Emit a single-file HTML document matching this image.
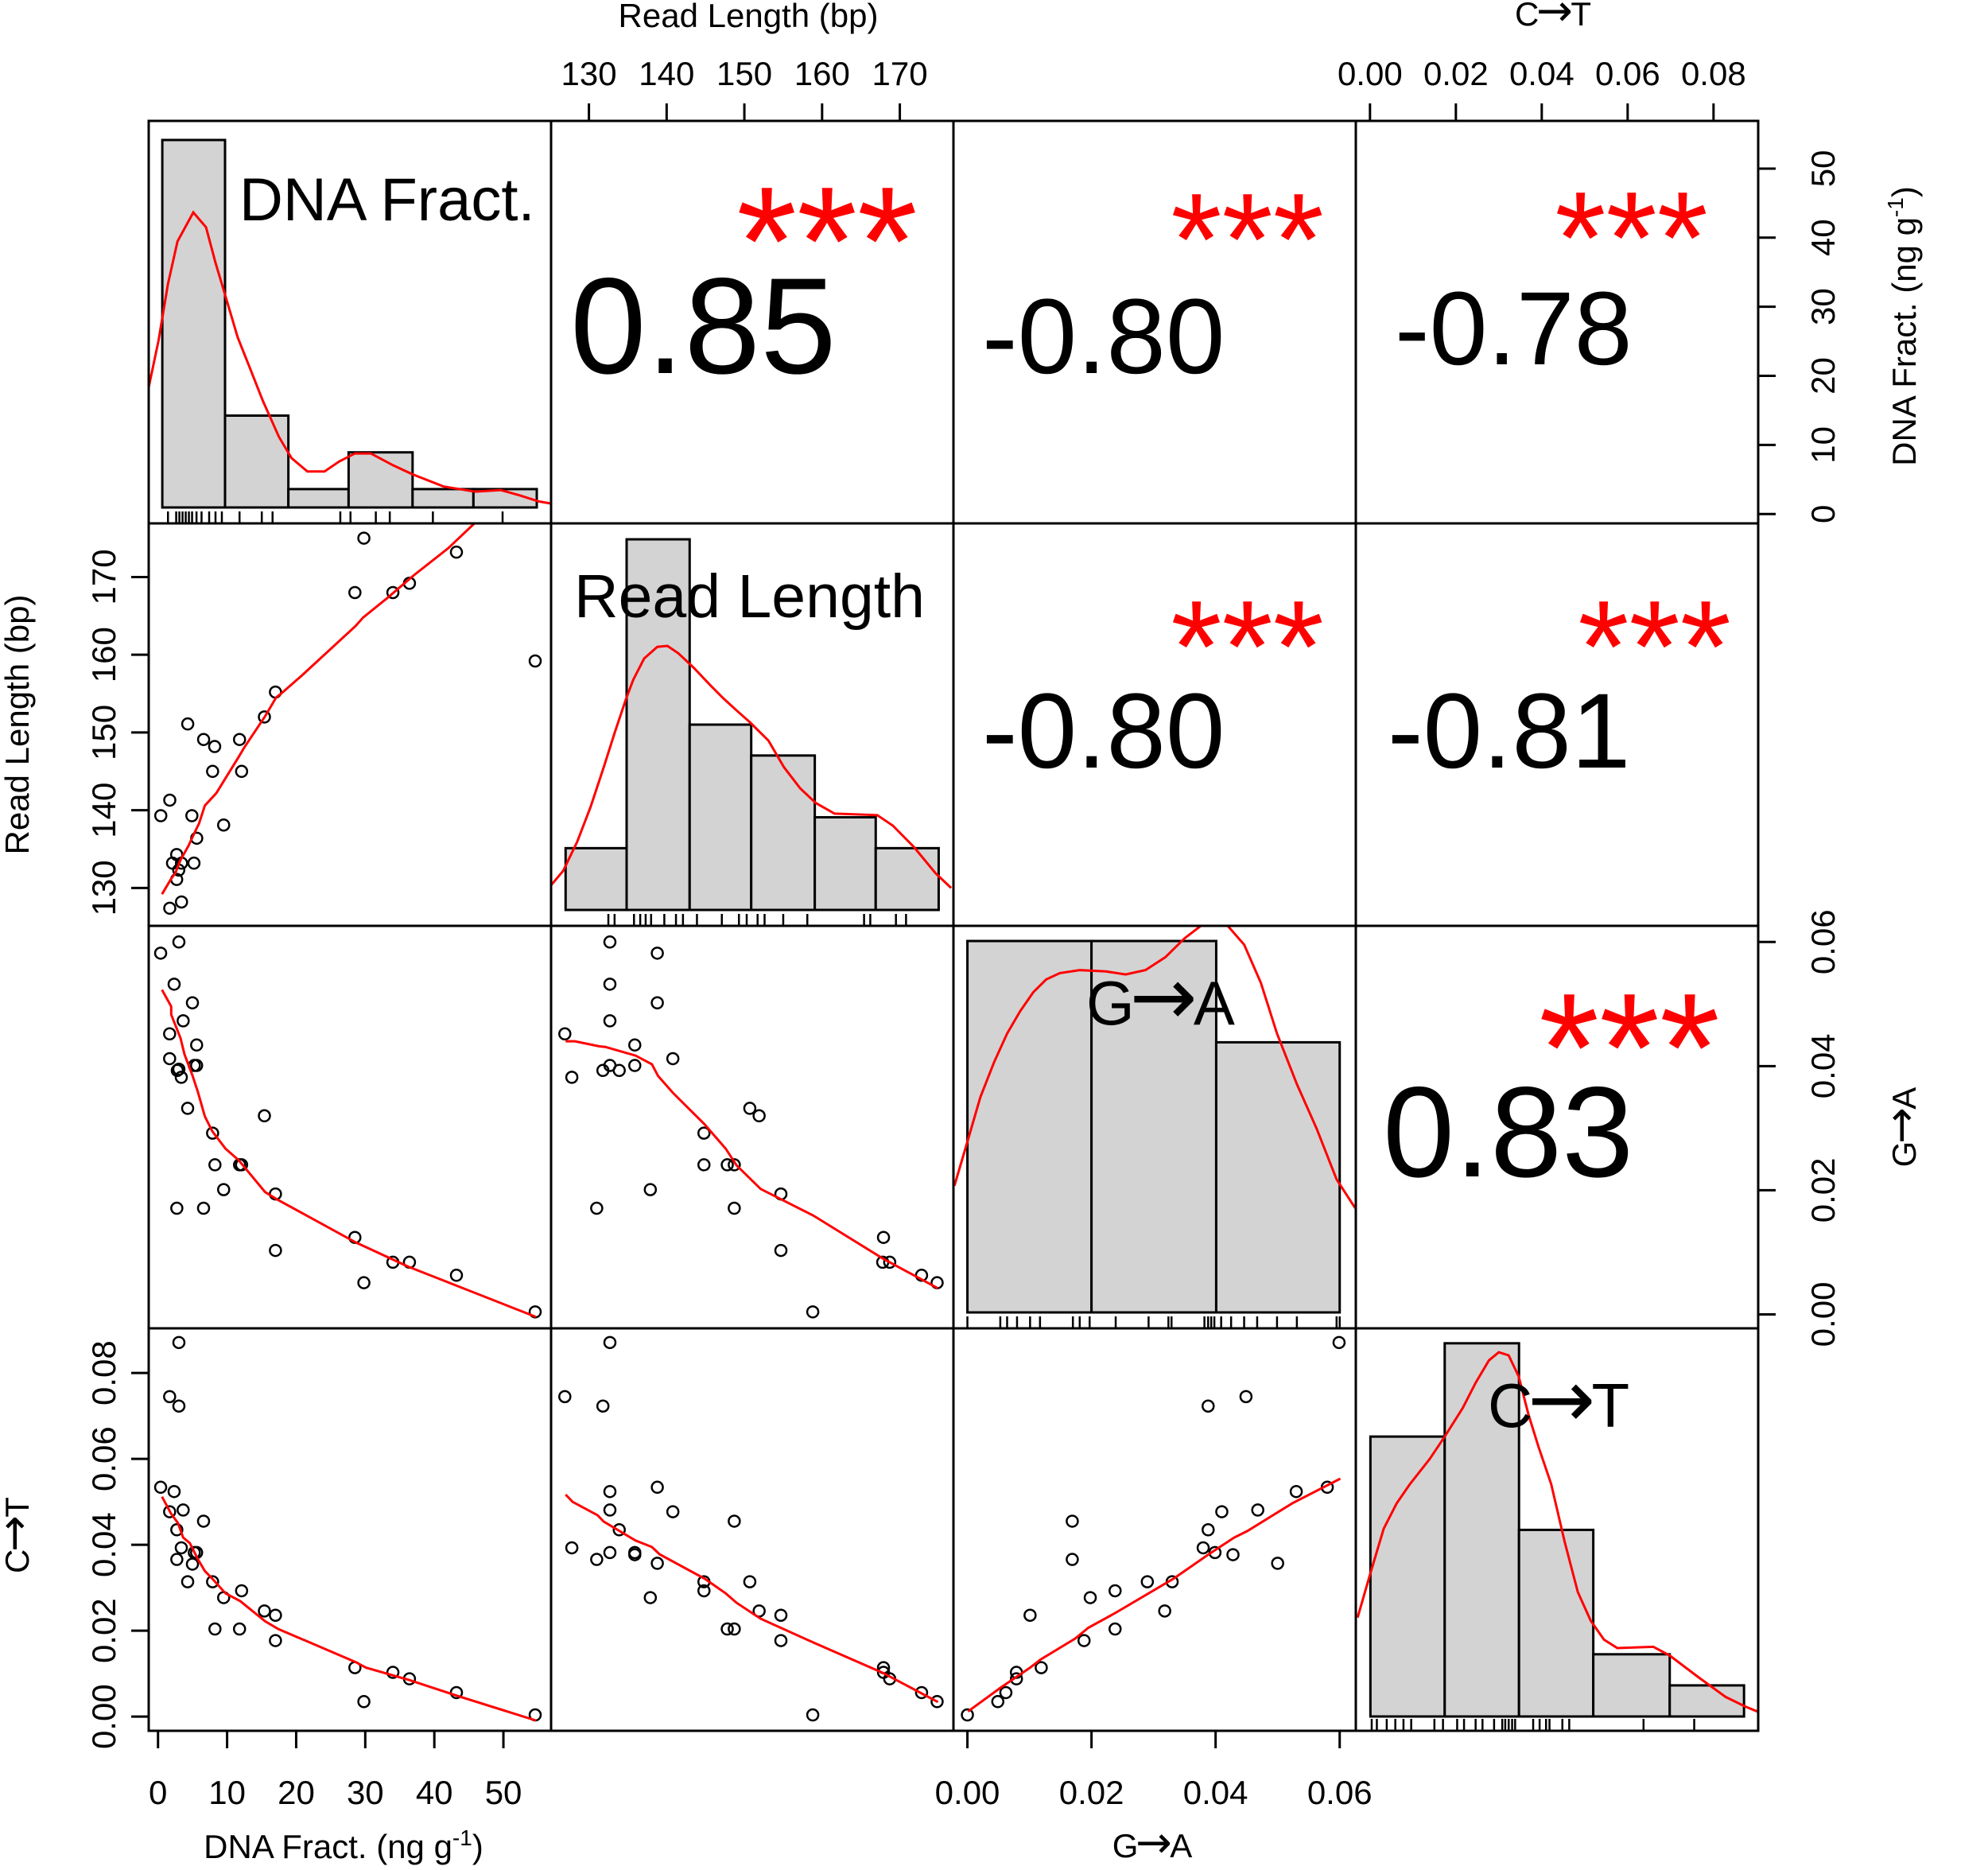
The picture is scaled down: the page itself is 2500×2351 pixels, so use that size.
<!DOCTYPE html>
<html><head><meta charset="utf-8"><style>
html,body{margin:0;padding:0;background:#fff;}
svg{display:block;font-family:"Liberation Sans",Arial,sans-serif;}
</style></head><body>
<svg id="chart" width="2500" height="2351" viewBox="0 0 2500 2351" xmlns="http://www.w3.org/2000/svg">
<defs></defs>
</svg>
<script>
// ---------- data ----------
const varNames = ['DNA Fract.','Read Length','G|A','C|T'];
const corrValues = [['','0.85','-0.80','-0.78'],['','','-0.80','-0.81'],['','','','0.83']];
const dnaTicks = [0,10,20,30,40,50];
const rlTicks = [130,140,150,160,170];
const gaTicks = [0,0.02,0.04,0.06];
const ctTicks = [0,0.02,0.04,0.06,0.08];

const dnaRL_x = [29.8,43.2,28.5,34.0,36.4,54.6,17.0,15.4,4.3,6.6,8.2,11.8,7.9,12.1,1.7,0.4,4.9,9.5,5.6,2.7,2.1,3.4,5.2,3.0,2.7,3.4,1.7];
const dnaRL_y = [175.0,173.2,168.0,168.0,169.2,159.2,155.2,152.0,151.1,149.1,148.2,149.1,145.0,145.0,141.3,139.3,139.3,138.1,136.4,134.3,133.2,133.2,133.2,132.3,131.1,128.2,127.4];
const dnaRL_lx = [0.57,1.91,2.49,3.25,4.4,5.55,5.94,6.78,8.43,11.7,12.5,15.5,17.1,17.8,20.9,28.6,29.7,33.2,37.0,42.0,45.8,54.6];
const dnaRL_ly = [129.2,131.2,131.9,133.6,135.4,137.6,138.3,140.6,142.2,146.9,148.1,152.1,154.5,155.0,157.4,163.7,164.8,167.3,170.2,173.7,176.9,183.5];

const dnaGA_x = [3.02,0.38,2.33,4.98,3.64,1.68,5.59,1.68,2.79,3.02,3.37,5.25,5.59,4.29,15.4,7.9,8.24,11.8,12.1,9.5,17.0,2.72,6.59,28.5,17.0,34.0,36.4,43.2,29.8,54.6];
const dnaGA_y = [.0600,.0582,.0532,.0502,.0473,.0452,.0434,.0412,.0393,.0395,.0382,.0401,.0401,.0332,.0320,.0292,.0241,.0241,.0241,.0201,.0194,.0171,.0171,.0124,.0103,.0084,.0084,.0063,.0051,.0004];
const dnaGA_lx = [0.57,1.91,1.91,3.25,3.83,4.98,5.75,6.78,7.86,9.77,11.7,15.5,17.1,28.6,36.2,54.7];
const dnaGA_ly = [.0523,.0496,.0483,.0445,.0419,.0385,.0359,.0319,.0295,.0267,.0248,.0197,.0186,.0116,.0077,-.0004];

const rlGA_x = [132.7,138.8,132.7,138.8,132.7,126.9,135.9,140.8,132.7,131.8,133.9,135.9,127.8,150.7,151.9,144.8,144.8,147.8,148.7,137.9,154.7,131.0,148.7,167.9,154.7,167.8,168.7,172.8,174.8,158.8];
const rlGA_y = [.0600,.0582,.0532,.0502,.0473,.0452,.0434,.0412,.0401,.0393,.0393,.0401,.0382,.0332,.0320,.0292,.0241,.0241,.0241,.0201,.0194,.0171,.0171,.0124,.0103,.0084,.0084,.0063,.0051,.0004];
const rlGA_lx = [127.0,128.2,131.3,132.1,136.0,138.1,138.9,140.8,144.9,147.6,149.0,152.1,158.9,167.8,174.9];
const rlGA_ly = [.0440,.0440,.0432,.0431,.0417,.0403,.0384,.0357,.0306,.0267,.0240,.0202,.0159,.0090,.0042];

const dnaCT_x = [3.02,1.68,3.02,0.38,2.33,1.68,3.64,6.59,2.72,3.37,5.25,5.59,2.72,4.98,4.29,7.9,12.1,9.5,15.4,17.0,8.24,11.8,17.0,28.5,34.0,36.4,43.2,29.8,54.6];
const dnaCT_y = [.0871,.0745,.0723,.0534,.0524,.0477,.0481,.0455,.0435,.0393,.0382,.0382,.0366,.0355,.0314,.0314,.0293,.0277,.0246,.0236,.0204,.0204,.0177,.0114,.0103,.0088,.0056,.0035,.0004];
const dnaCT_lx = [0.57,1.91,2.87,3.64,4.6,5.75,6.78,7.86,9.77,11.9,15.5,17.4,28.6,30.1,36.2,43.2,54.7];
const dnaCT_ly = [.0512,.0472,.0451,.0417,.0404,.0367,.0339,.0321,.0287,.0269,.0222,.0204,.0127,.0114,.0086,.0049,-.0009];

const rlCT_x = [132.7,126.9,131.8,132.7,138.8,132.7,140.8,148.7,133.9,127.8,132.7,135.9,135.9,131.0,138.8,144.8,150.7,144.8,137.9,151.9,154.7,147.8,148.7,154.7,167.9,167.9,168.7,172.8,174.8,158.8];
const rlCT_y = [.0871,.0745,.0723,.0524,.0534,.0481,.0477,.0455,.0435,.0393,.0382,.0382,.0377,.0366,.0357,.0314,.0314,.0293,.0277,.0246,.0236,.0204,.0204,.0177,.0114,.0103,.0088,.0056,.0035,.0004];
const rlCT_lx = [127.0,127.9,131.1,131.9,136.0,138.1,139.1,144.9,147.6,149.0,152.1,159.2,167.8,174.9];
const rlCT_ly = [.0517,.0500,.0469,.0454,.0410,.0395,.0378,.0321,.0287,.0265,.0228,.0170,.0102,.0034];

const gaCT_x = [.0599,.0449,.0388,.0530,.0580,.0468,.0410,.0169,.0388,.0380,.0399,.0428,.0169,.0500,.0290,.0330,.0238,.0198,.0318,.0101,.0238,.0188,.0119,.0079,.0079,.0062,.0049,.0000];
const gaCT_y = [.0871,.0745,.0723,.0524,.0534,.0481,.0477,.0455,.0435,.0393,.0382,.0377,.0366,.0357,.0314,.0314,.0293,.0277,.0246,.0236,.0204,.0177,.0114,.0103,.0088,.0056,.0035,.0004];
const gaCT_lx = [.0001,.0054,.0101,.0118,.0174,.0195,.0238,.0332,.0387,.0430,.0451,.0524,.0601];
const gaCT_ly = [.0012,.0068,.0114,.0133,.0182,.0207,.0241,.0321,.0376,.0417,.0432,.0497,.0554];

const dnaBreaks = [0.62,9.70,18.87,27.59,36.85,45.66,54.83];
const dnaCounts = [20,5,1,3,1,1];
const dnaDensX = [-1.40,0.07,1.44,2.82,5.11,6.95,8.32,9.70,11.53,13.37,15.20,17.50,19.33,21.62,24.10,26.21,28.50,30.80,34.01,36.76,41.35,45.94,49.60,52.36,55.11,56.76];
const dnaDensY = [6.46,9.07,12.16,14.48,16.06,15.25,13.32,11.58,9.26,7.52,5.78,3.85,2.69,1.96,1.96,2.50,2.94,2.94,2.30,1.82,1.14,0.86,0.95,0.66,0.33,0.22];
const dnaRug = [1.44,2.63,3.09,3.55,4.01,4.47,4.93,5.57,6.30,7.40,8.32,9.24,11.80,15.02,16.58,26.39,27.86,31.53,33.55,39.79,49.88];

const rlBreaks = [127.0,134.85,142.96,150.88,159.06,166.9,175.0];
const rlCounts = [2,12,6,5,3,2];
const rlDensX = [125.13,126.7,128.5,130.2,131.9,133.3,134.8,135.7,137.1,138.8,140.1,141.5,143.5,145.6,147.3,149.0,150.7,153.1,155.1,157.2,159.2,161.6,167.1,169.1,171.8,174.6,176.6];
const rlDensY = [0.80,1.27,2.21,3.33,4.62,5.73,6.85,7.45,8.14,8.52,8.55,8.31,7.84,7.28,6.85,6.46,6.08,5.48,4.62,3.93,3.46,3.12,3.07,2.73,2.04,1.19,0.71];
const rlRug = [132.5,133.3,135.8,136.6,137.3,138.0,139.7,141.2,142.1,143.9,147.1,149.3,150.3,151.7,152.6,155.0,158.1,165.4,166.2,169.5,170.8];

const gaBreaks = [0.0000,0.0200,0.0401,0.0600];
const gaCounts = [11,11,8];
const gaDensX = [-0.0021,0.0000,0.0021,0.0043,0.0064,0.0085,0.0106,0.0127,0.0149,0.0181,0.0223,0.0255,0.0287,0.0319,0.0350,0.0377,0.0398,0.0419,0.0446,0.0473,0.0499,0.0531,0.0563,0.0595,0.0625];
const gaDensY = [3.75,5.06,6.38,7.41,8.26,8.92,9.48,9.86,10.05,10.14,10.10,10.01,10.14,10.52,11.08,11.46,11.59,11.46,10.89,9.76,8.26,6.76,5.44,3.94,3.09];
const gaRug = [0.0000,0.0053,0.0064,0.0080,0.0101,0.0117,0.0170,0.0181,0.0197,0.0239,0.0292,0.0324,0.0329,0.0382,0.0388,0.0393,0.0398,0.0409,0.0425,0.0446,0.0467,0.0499,0.0531,0.0595,0.0600];

const ctBreaks = [0.0001,0.0174,0.0347,0.0520,0.0698,0.0871];
const ctCounts = [9,12,6,2,1];
const ctDensX = [-0.0029,0.0001,0.0032,0.0062,0.0093,0.0139,0.0174,0.0216,0.0246,0.0277,0.0300,0.0323,0.0346,0.0369,0.0392,0.0422,0.0453,0.0484,0.0514,0.0545,0.0576,0.0660,0.0698,0.0767,0.0828,0.0874,0.0902];
const ctDensY = [3.18,4.61,6.04,6.85,7.47,8.28,9.00,9.92,10.73,11.45,11.71,11.61,10.94,9.71,8.69,7.47,5.63,4.00,3.08,2.47,2.20,2.24,1.96,1.24,0.63,0.32,0.16];
const ctRug = [0.0004,0.0016,0.0039,0.0059,0.0078,0.0096,0.0150,0.0170,0.0203,0.0219,0.0246,0.0262,0.0289,0.0308,0.0315,0.0323,0.0331,0.0338,0.0380,0.0395,0.0410,0.0418,0.0448,0.0464,0.0637,0.0755];

// ---------- layout ----------
const NS = 'http://www.w3.org/2000/svg';
const svg = document.getElementById('chart');
const P0X = 187, P0Y = 152, PS = 506;
const domains = [[-1.35,56.9],[125.13,176.9],[-0.00225,0.0626],[-0.0033,0.0904]];
const histBottom = [638,1144,1650,2158];
const histK = [23.1,38.83,42.45,39.1];
function sx(v,col,val){const d=domains[v];return P0X+PS*col+(val-d[0])/(d[1]-d[0])*PS;}
function sy(v,row,val){const d=domains[v];return P0Y+PS*row+(d[1]-val)/(d[1]-d[0])*PS;}
function mk(tag,attrs,parent){const e=document.createElementNS(NS,tag);for(const k in attrs)e.setAttribute(k,attrs[k]);(parent||svg).appendChild(e);return e;}
const defs = svg.querySelector('defs');
for(let r=0;r<4;r++)for(let c=0;c<4;c++){
  const cp=mk('clipPath',{id:'clip'+r+c},defs);
  mk('rect',{x:P0X+PS*c,y:P0Y+PS*r,width:PS,height:PS},cp);
}
// text with arrow support: '|' denotes the arrow glyph
function fillText(t,s){
  const parts=s.split('|');
  parts.forEach((p,i)=>{
    if(i>0){
      const a=mk('tspan',{'font-family':'"DejaVu Sans",sans-serif','font-size':'130%',dx:'-0.06em'},t);
      a.textContent='\u2192';
      const b=mk('tspan',{'font-size':'100%',dx:'-0.06em'},t);
      b.textContent=p;
    } else {
      const b=mk('tspan',{},t); b.textContent=p;
    }
  });
}
function txt(s,x,y,fs,opts){
  const t=mk('text',Object.assign({x:x,y:y,'font-size':fs,fill:'#000'},opts||{}));
  fillText(t,s);return t;
}

// ---------- histograms ----------
const hist=[[dnaBreaks,dnaCounts,dnaDensX,dnaDensY,dnaRug],[rlBreaks,rlCounts,rlDensX,rlDensY,rlRug],[gaBreaks,gaCounts,gaDensX,gaDensY,gaRug],[ctBreaks,ctCounts,ctDensX,ctDensY,ctRug]];
const histNames=['dna','read-length','g-to-a','c-to-t'];
hist.forEach((h,i)=>{
  const g=mk('g',{'clip-path':'url(#clip'+i+i+')'});
  
  
  const [br,ct,dx,dy,rug]=h;
  ct.forEach((n,j)=>{
    const x0=sx(i,i,br[j]),x1=sx(i,i,br[j+1]);
    const y1=histBottom[i]-n*histK[i];
    const rc=mk('rect',{x:x0,y:y1,width:x1-x0,height:histBottom[i]-y1,fill:'#d3d3d3',stroke:'#000','stroke-width':3},g);
    
    
  });
  const pts=dx.map((v,j)=>sx(i,i,v).toFixed(1)+','+(histBottom[i]-dy[j]*histK[i]).toFixed(1)).join(' ');
  const pl=mk('polyline',{points:pts,fill:'none',stroke:'#ff0000','stroke-width':3},g);
  
  
  const yb=P0Y+PS*(i+1);
  rug.forEach(v=>{
    const ln=mk('line',{x1:sx(i,i,v),x2:sx(i,i,v),y1:yb-15,y2:yb,stroke:'#000','stroke-width':2.5},g);
    
    
  });
});

// ---------- scatter ----------
const scat=[[1,0,dnaRL_x,dnaRL_y,dnaRL_lx,dnaRL_ly],[2,0,dnaGA_x,dnaGA_y,dnaGA_lx,dnaGA_ly],[2,1,rlGA_x,rlGA_y,rlGA_lx,rlGA_ly],[3,0,dnaCT_x,dnaCT_y,dnaCT_lx,dnaCT_ly],[3,1,rlCT_x,rlCT_y,rlCT_lx,rlCT_ly],[3,2,gaCT_x,gaCT_y,gaCT_lx,gaCT_ly]];
scat.forEach(s=>{
  const [r,c,xs,ys,lx,ly]=s;
  const g=mk('g',{'clip-path':'url(#clip'+r+c+')'});
  
  
  xs.forEach((v,j)=>{
    const ci=mk('circle',{cx:sx(c,c,v),cy:sy(r,r,ys[j]),r:7,fill:'none',stroke:'#000','stroke-width':2.5},g);
    
    
  });
  const pts=lx.map((v,j)=>sx(c,c,v).toFixed(1)+','+sy(r,r,ly[j]).toFixed(1)).join(' ');
  const pl=mk('polyline',{points:pts,fill:'none',stroke:'#ff0000','stroke-width':3},g);
  
  
});

// ---------- correlations ----------
// [row,col,x,baseline,fontSize,starsRightInk,starsTopInk,starsFontSize]
const corrPos=[[0,1,717,469,172,1148,230,195],[0,2,1235,469,134,1660,239,165],[0,3,1754,458,131,2143,237,165],[1,2,1235,965,134,1660,751,165],[1,3,1745,965,134,2172,751,165],[2,3,1739,1479,162,2157,1244,195]];
corrPos.forEach(p=>{
  const [r,c,x,y,fs,sxr,syt,sfs]=p;
  const t=txt(corrValues[r][c],x,y,fs);
  
  
  const st=txt('***',sxr+sfs*0.03,syt+sfs*0.72,sfs,{fill:'#ff0000','text-anchor':'end'});
  
  
});

// ---------- diagonal labels ----------
const diagPos=[[301,277,76],[722,776,77],[1366,1288,78],[1871,1794,78]];
diagPos.forEach((p,i)=>{
  const t=txt(varNames[i],p[0],p[1],p[2]);
  
  
});

// ---------- borders ----------
for(let r=0;r<4;r++)for(let c=0;c<4;c++){
  const b=mk('rect',{x:P0X+PS*c,y:P0Y+PS*r,width:PS,height:PS,fill:'none',stroke:'#000','stroke-width':3});
  
  
}

// ---------- axes (ticks only, no axis line) ----------
function fmt(v,dec){return v.toFixed(dec);}
const FS=42;
[[0,dnaTicks,0],[2,gaTicks,2]].forEach(a=>{
  const [c,ticks,dec]=a; const yb=P0Y+PS*4;
  const g=mk('g',{});
  
  
  ticks.forEach(v=>{
    const x=sx(c,c,v);
    mk('line',{x1:x,x2:x,y1:yb,y2:yb+22,stroke:'#000','stroke-width':3},g);
    const t=txt(fmt(v,dec),x,2268,FS,{'text-anchor':'middle'});
    
    
  });
});
[[1,rlTicks,0],[3,ctTicks,2]].forEach(a=>{
  const [c,ticks,dec]=a;
  const g=mk('g',{});
  
  
  ticks.forEach(v=>{
    const x=sx(c,c,v);
    mk('line',{x1:x,x2:x,y1:P0Y-22,y2:P0Y,stroke:'#000','stroke-width':3},g);
    const t=txt(fmt(v,dec),x,107,FS,{'text-anchor':'middle'});
    
    
  });
});
[[1,rlTicks,0],[3,ctTicks,2]].forEach(a=>{
  const [r,ticks,dec]=a;
  const g=mk('g',{});
  
  
  ticks.forEach(v=>{
    const y=sy(r,r,v);
    mk('line',{x1:P0X-22,x2:P0X,y1:y,y2:y,stroke:'#000','stroke-width':3},g);
    const t=txt(fmt(v,dec),0,0,FS,{'text-anchor':'middle',transform:'translate(145,'+y+') rotate(-90)'});
    
    
  });
});
[[0,dnaTicks,0],[2,gaTicks,2]].forEach(a=>{
  const [r,ticks,dec]=a; const xr=P0X+PS*4;
  const g=mk('g',{});
  
  
  ticks.forEach(v=>{
    const y=sy(r,r,v);
    mk('line',{x1:xr,x2:xr+22,y1:y,y2:y,stroke:'#000','stroke-width':3},g);
    const t=txt(fmt(v,dec),0,0,FS,{'text-anchor':'middle',transform:'translate(2307,'+y+') rotate(-90)'});
    
    
  });
});

// ---------- titles ----------
function title(parts,x,y,rot,name){
  const t=mk('text',{x:0,y:0,'font-size':FS,'text-anchor':'middle',transform:'translate('+x+','+y+')'+(rot?' rotate(-90)':'')});
  parts.forEach(p=>{
    if(p[1]){const ts=mk('tspan',p[1],t);ts.textContent=p[0];}
    else fillText(t,p[0]);
  });
  
  
}
const sup={'font-size':28,dy:-16};
const back={dy:16};
title([['Read Length (bp)']],941,34,false,'top-axis-title-read-length');
title([['C|T']],1953,32,false,'top-axis-title-c-to-t');
title([['DNA Fract. (ng g',{}],['-1',sup],[')',back]],432,2336,false,'bottom-axis-title-dna');
title([['G|A']],1449,2335,false,'bottom-axis-title-g-to-a');
title([['Read Length (bp)']],36,911,true,'left-axis-title-read-length');
title([['C|T']],36,1930,true,'left-axis-title-c-to-t');
title([['DNA Fract. (ng g',{}],['-1',sup],[')',back]],2409,410,true,'right-axis-title-dna');
title([['G|A']],2409,1417,true,'right-axis-title-g-to-a');
</script>
</body></html>
